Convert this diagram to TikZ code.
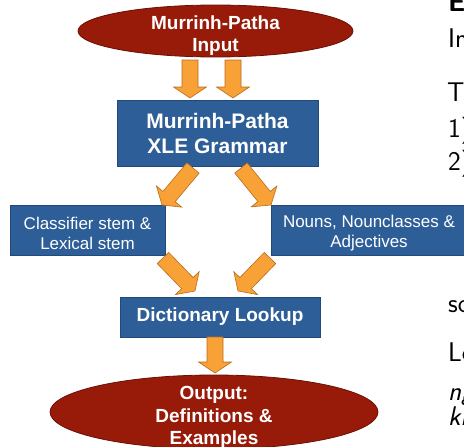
\documentclass[tikz,border=0pt]{standalone}
\usepackage{fontspec}
\newfontfamily\boxfont{Liberation Sans}
\usetikzlibrary{shapes.geometric,calc}

\definecolor{panelblue}{HTML}{2D5E97}
\definecolor{paneledge}{HTML}{22497A}
\definecolor{ovalred}{HTML}{981A08}
\definecolor{ovaledge}{HTML}{6A1005}
\definecolor{arrowfill}{HTML}{F7A136}
\definecolor{arrowedge}{HTML}{B86D1E}

% invisible strut that lowers a multi-line text inside its shape
\newcommand{\lowerby}[1]{\rule{0pt}{#1}}

\tikzset{
  oval/.style={ellipse, fill=ovalred, draw=ovaledge, line width=0.8pt, text=white,
    font=\boxfont\bfseries\fontsize{19}{22.5}\selectfont, align=center,
    inner xsep=0pt, inner ysep=-12pt},
  panel/.style={rectangle, fill=panelblue, draw=paneledge, line width=0.8pt,
    text=white, align=center, inner sep=0pt},
  % broad outlined arrow drawn from the start point to the tip
  blockarrow/.style={fill=arrowfill, draw=arrowedge, line width=0.6pt, line join=miter,
    to path={let \p1=(\tikztostart), \p2=(\tikztotarget),
      \n1={atan2(\y2-\y1,\x2-\x1)}, \n2={veclen(\x2-\x1,\y2-\y1)} in
      ($(\p1)+(\n1+90:8pt)$)
      -- ($(\p1)+(\n1:\n2-11pt)+(\n1+90:8pt)$)
      -- ($(\p1)+(\n1:\n2-11pt)+(\n1+90:16.5pt)$)
      -- (\p2)
      -- ($(\p1)+(\n1:\n2-11pt)+(\n1-90:16.5pt)$)
      -- ($(\p1)+(\n1:\n2-11pt)+(\n1-90:8pt)$)
      -- ($(\p1)+(\n1-90:8pt)$) -- cycle}},
  side/.style={anchor=base west, inner sep=0pt, font=\sffamily\fontsize{27}{32}\selectfont},
  sideit/.style={side, font=\sffamily\itshape\fontsize{27}{32}\selectfont}
}

\begin{document}
\begin{tikzpicture}[x=1pt,y=1pt]
\useasboundingbox (0,0) rectangle (464,-447);
\clip (0,0) rectangle (464,-447);

% nodes of the pipeline
\node[oval, minimum width=275pt, minimum height=52pt] (input) at (215.5,-31)
  {\lowerby{23pt}Murrinh-Patha\\Input};
\node[panel, minimum width=201pt, minimum height=66pt,
  font=\boxfont\bfseries\fontsize{21}{25}\selectfont] (grammar) at (217.5,-133)
  {Murrinh-Patha\\XLE Grammar};
\node[panel, minimum width=155pt, minimum height=50pt,
  font=\boxfont\fontsize{17}{20}\selectfont] (stems) at (87.5,-230)
  {\lowerby{19pt}Classifier stem \&\\Lexical stem};
\node[panel, minimum width=196pt, minimum height=50pt,
  font=\boxfont\fontsize{17}{20}\selectfont] (nouns) at (369,-230)
  {\lowerby{19pt}Nouns, Nounclasses \&\\Adjectives};
\node[panel, minimum width=200pt, minimum height=40pt,
  font=\boxfont\bfseries\fontsize{19}{22}\selectfont] (lookup) at (220,-317)
  {Dictionary Lookup};
\node[oval, minimum width=328pt, minimum height=74pt] (output) at (214,-412)
  {\lowerby{24pt}Output:\\Definitions \&\\Examples};

% arrow end points
\coordinate (inA) at (190,-60);   \coordinate (grA) at (190,-98);
\coordinate (inB) at (233,-60);   \coordinate (grB) at (233,-98);
\coordinate (grL) at (193,-168);  \coordinate (stT) at (162,-205);
\coordinate (grR) at (241,-168);  \coordinate (noT) at (271,-205);
\coordinate (stB) at (163,-258);  \coordinate (luL) at (195,-291);
\coordinate (noB) at (270,-258);  \coordinate (luR) at (238,-291);
\coordinate (luB) at (215,-337);  \coordinate (ouT) at (215,-373);

\draw[blockarrow] (inA) to (grA);
\draw[blockarrow] (inB) to (grB);
\draw[blockarrow] (grL) to (stT);
\draw[blockarrow] (grR) to (noT);
\draw[blockarrow] (stB) to (luL);
\draw[blockarrow] (noB) to (luR);
\draw[blockarrow] (luB) to (ouT);

% slide text running off the right edge
\node[side, font=\sffamily\bfseries\fontsize{27}{32}\selectfont] (t1) at (448,-12) {E};
\node[side] (t2) at (448,-48) {In};
\node[side] (t3) at (447,-101) {T};
\node[side] (t4) at (448,-137) {1)};
\node[side] (t5) at (448,-170) {2)};
\node[side] (t6) at (448,-312) {so};
\node[side] (t7) at (448,-361) {Le};
\node[sideit] (t8) at (448,-400) {ng};
\node[sideit] (t9) at (448,-425) {ki};
\end{tikzpicture}
\end{document}
